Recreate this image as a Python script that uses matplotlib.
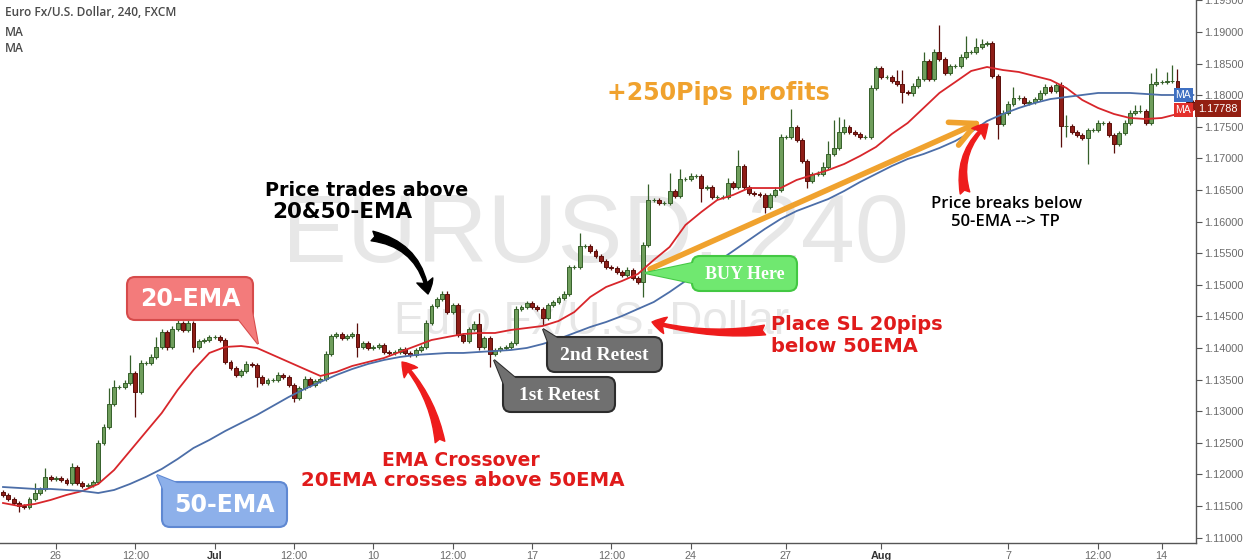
import numpy as np
import matplotlib.pyplot as plt
from matplotlib.patches import FancyBboxPatch, Polygon
from matplotlib.ticker import FormatStrFormatter

plt.rcParams['font.family'] = ['Liberation Sans', 'DejaVu Sans']

# EURUSD 4h candles, each candle opens at the previous close
first_open = 1.11721
closes = [
    1.11674, 1.11610, 1.11547, 1.11500, 1.11484, 1.11610, 1.11705, 1.11769, 1.11959, 1.11927,
    1.11943, 1.11911, 1.11864, 1.12117, 1.11864, 1.11816, 1.11832, 1.11879, 1.12497, 1.12750,
    1.13114, 1.13383, 1.13383, 1.13446, 1.13604, 1.13304, 1.13762, 1.13762, 1.13857, 1.14016,
    1.14253, 1.14016, 1.14300, 1.14395, 1.14285, 1.14395, 1.14016, 1.14110, 1.14126, 1.14174,
    1.14174, 1.14126, 1.13778, 1.13683, 1.13572, 1.13636, 1.13747, 1.13731, 1.13541, 1.13446,
    1.13493, 1.13493, 1.13572, 1.13541, 1.13414, 1.13209, 1.13367, 1.13509, 1.13414, 1.13478,
    1.13509, 1.13905, 1.14190, 1.14221, 1.14158, 1.14190, 1.14221, 1.14016, 1.14079, 1.14000,
    1.14016, 1.14047, 1.13937, 1.13921, 1.13937, 1.13984, 1.13921, 1.13889, 1.13968, 1.14016,
    1.14395, 1.14664, 1.14775, 1.14854, 1.14569, 1.14680, 1.14205, 1.14110, 1.14300, 1.14379,
    1.14016, 1.14158, 1.13905, 1.13968, 1.14000, 1.14016, 1.14079, 1.14617, 1.14648, 1.14712,
    1.14648, 1.14617, 1.14474, 1.14680, 1.14727, 1.14791, 1.14854, 1.15281, 1.15281, 1.15614,
    1.15614, 1.15534, 1.15455, 1.15376, 1.15281, 1.15265, 1.15202, 1.15155, 1.15234, 1.15107,
    1.15044, 1.15629, 1.16341, 1.16341, 1.16294, 1.16294, 1.16484, 1.16405, 1.16674, 1.16674,
    1.16721, 1.16721, 1.16531, 1.16547, 1.16389, 1.16389, 1.16389, 1.16610, 1.16547, 1.16879,
    1.16547, 1.16452, 1.16436, 1.16421, 1.16231, 1.16421, 1.16500, 1.17338, 1.17338, 1.17497,
    1.17291, 1.16959, 1.16642, 1.16753, 1.16753, 1.16864, 1.17069, 1.17164, 1.17417, 1.17497,
    1.17417, 1.17386, 1.17338, 1.17338, 1.18114, 1.18430, 1.18288, 1.18288, 1.18224, 1.18177,
    1.18050, 1.18035, 1.18145, 1.18256, 1.18541, 1.18256, 1.18683, 1.18572, 1.18351, 1.18462,
    1.18462, 1.18604, 1.18683, 1.18683, 1.18762, 1.18810, 1.18826, 1.18303, 1.17544, 1.17718,
    1.17860, 1.17955, 1.17955, 1.17876, 1.17892, 1.17939, 1.18035, 1.18129, 1.18066, 1.18161,
    1.17512, 1.17512, 1.17417, 1.17370, 1.17322, 1.17449, 1.17449, 1.17560, 1.17560, 1.17370,
    1.17227, 1.17402, 1.17560, 1.17718, 1.17750, 1.17750, 1.17560, 1.18177, 1.18208, 1.18208,
    1.18224, 1.18224, 1.18050, 1.17971, 1.17892, 1.17788,
]
# wick length above / below the body, in pips
upper_wick = [
    3, 3, 3, 3, 3, 3, 16, 3, 14, 3, 3, 3, 3, 7, 3, 3, 3, 3, 4, 5,
    25, 11, 3, 4, 28, 3, 4, 3, 5, 16, 4, 3, 5, 4, 3, 4, 3, 3, 3, 3,
    3, 3, 3, 3, 3, 3, 4, 3, 3, 3, 3, 3, 4, 3, 3, 3, 3, 4, 3, 3,
    3, 4, 3, 3, 3, 3, 3, 17, 3, 3, 3, 3, 3, 3, 3, 3, 3, 3, 3, 3,
    4, 3, 3, 4, 4, 3, 3, 3, 3, 4, 17, 3, 3, 3, 3, 3, 3, 4, 3, 3,
    3, 3, 3, 3, 3, 3, 4, 3, 3, 20, 3, 3, 3, 3, 3, 3, 3, 3, 4, 3,
    3, 4, 25, 3, 3, 3, 28, 3, 16, 3, 4, 3, 3, 3, 3, 3, 3, 8, 3, 25,
    3, 3, 3, 3, 3, 3, 4, 5, 3, 28, 3, 3, 3, 3, 4, 8, 20, 44, 24, 12,
    3, 3, 3, 3, 4, 3, 3, 3, 3, 17, 22, 3, 4, 4, 14, 3, 5, 43, 3, 3,
    3, 5, 25, 3, 14, 8, 3, 3, 3, 4, 4, 17, 4, 3, 3, 3, 4, 4, 3, 3,
    4, 17, 3, 3, 3, 3, 3, 5, 3, 3, 3, 3, 4, 4, 9, 9, 3, 17, 22, 3,
    15, 25, 19, 3, 3, 3,
]
lower_wick = [
    3, 3, 3, 9, 3, 3, 3, 3, 3, 3, 3, 3, 3, 3, 3, 3, 3, 3, 3, 3,
    3, 3, 3, 3, 3, 40, 3, 3, 3, 3, 3, 5, 3, 3, 3, 3, 8, 3, 3, 3,
    3, 3, 3, 3, 3, 3, 3, 3, 16, 3, 3, 3, 3, 3, 3, 6, 3, 3, 3, 3,
    3, 3, 3, 3, 3, 3, 3, 16, 3, 3, 3, 3, 3, 3, 3, 3, 3, 3, 3, 3,
    3, 3, 3, 3, 3, 3, 3, 3, 3, 3, 5, 3, 20, 3, 3, 3, 3, 3, 3, 3,
    3, 3, 11, 3, 3, 3, 3, 3, 3, 3, 3, 3, 3, 3, 3, 3, 3, 3, 3, 3,
    3, 24, 3, 3, 3, 3, 3, 3, 3, 3, 3, 3, 22, 3, 3, 3, 3, 3, 3, 3,
    3, 3, 3, 3, 9, 3, 3, 3, 3, 3, 3, 3, 11, 3, 3, 3, 3, 3, 3, 3,
    3, 3, 3, 3, 3, 3, 3, 3, 3, 3, 17, 3, 5, 3, 3, 3, 3, 3, 3, 3,
    3, 3, 3, 3, 3, 3, 3, 3, 24, 3, 3, 3, 3, 3, 3, 3, 3, 3, 3, 3,
    33, 18, 3, 3, 3, 41, 3, 3, 3, 3, 14, 3, 3, 3, 3, 3, 3, 3, 3, 3,
    3, 3, 3, 3, 3, 3,
]

# moving averages, read every third candle
ema_idx = list(range(0, 226, 3))
ema20 = [
    1.11547, 1.11500, 1.11531, 1.11595, 1.11674, 1.11737, 1.11848, 1.12069, 1.12370, 1.12671,
    1.12971, 1.13335, 1.13652, 1.13921, 1.14016, 1.14031, 1.14000, 1.13889, 1.13778, 1.13667,
    1.13557, 1.13620, 1.13715, 1.13778, 1.13841, 1.13937, 1.14031, 1.14126, 1.14174, 1.14221,
    1.14237, 1.14237, 1.14285, 1.14316, 1.14348, 1.14427, 1.14569, 1.14807, 1.14965, 1.15060,
    1.15171, 1.15392, 1.15598, 1.15946, 1.16152, 1.16341, 1.16421, 1.16531, 1.16531, 1.16531,
    1.16658, 1.16737, 1.16816, 1.16911, 1.17038, 1.17180, 1.17386, 1.17560, 1.17797, 1.18035,
    1.18208, 1.18383, 1.18446, 1.18398, 1.18367, 1.18303, 1.18240, 1.18114, 1.17924, 1.17797,
    1.17702, 1.17639, 1.17623, 1.17639, 1.17702, 1.17765,
]
ema50 = [
    1.11800, 1.11785, 1.11769, 1.11769, 1.11753, 1.11737, 1.11705, 1.11753, 1.11848, 1.11959,
    1.12085, 1.12243, 1.12417, 1.12544, 1.12686, 1.12813, 1.12940, 1.13082, 1.13224, 1.13351,
    1.13462, 1.13572, 1.13667, 1.13747, 1.13810, 1.13857, 1.13889, 1.13905, 1.13921, 1.13921,
    1.13937, 1.13952, 1.13968, 1.14000, 1.14063, 1.14142, 1.14237, 1.14332, 1.14411, 1.14506,
    1.14617, 1.14727, 1.14886, 1.15060, 1.15218, 1.15360, 1.15534, 1.15709, 1.15883, 1.16041,
    1.16167, 1.16262, 1.16357, 1.16484, 1.16626, 1.16753, 1.16879, 1.16990, 1.17069, 1.17164,
    1.17275, 1.17417, 1.17591, 1.17702, 1.17797, 1.17876, 1.17939, 1.17971, 1.18003, 1.18035,
    1.18035, 1.18035, 1.18019, 1.18003, 1.18003, 1.18003,
]

tick_idx = [10, 25, 40, 55, 70, 85, 100, 115, 130, 148, 166, 190, 207, 219]
tick_labels = ['26', '12:00', 'Jul', '12:00', '10', '12:00', '17', '12:00',
               '24', '27', 'Aug', '7', '12:00', '14']
last_price = 1.17788

W, H = 1246, 560
fig = plt.figure(figsize=(W / 100, H / 100), dpi=100)
ax = fig.add_axes([0, 17 / H, 1196 / W, 543 / H])
# overlay in pixel units (origin top-left) for the hand-drawn notes
ov = fig.add_axes([0, 0, 1, 1])
ov.set_xlim(0, W)
ov.set_ylim(H, 0)
ov.axis('off')
ov.patch.set_alpha(0)

# candles
x = np.arange(len(closes))
c = np.array(closes)
o = np.r_[first_open, c[:-1]]
hi = np.maximum(o, c) + np.array(upper_wick) * 1e-4
lo = np.minimum(o, c) - np.array(lower_wick) * 1e-4
rising = c >= o
body_col = np.where(rising, '#6f9e5c', '#8e1d17')
edge_col = np.where(rising, '#36602a', '#5a0e0a')
ax.vlines(x, lo, hi, colors=edge_col, lw=0.9, zorder=2)
ax.bar(x, np.abs(c - o), bottom=np.minimum(o, c), width=0.74,
       color=body_col, edgecolor=edge_col, lw=0.7, zorder=3)

ax.plot(ema_idx, ema20, color='#d8262b', lw=1.3, zorder=4)
ax.plot(ema_idx, ema50, color='#4c6ea8', lw=1.3, zorder=4)

ax.set_xlim(-0.57, 225.5)
ax.set_ylim(1.10914, 1.19506)

# watermark behind the candles
ax.text(595, 237, 'EURUSD, 240', transform=ov.transData, ha='center', va='center',
        fontsize=70, color='#e7e7e7', zorder=0)
ax.text(592, 322, 'Euro Fx/U.S. Dollar', transform=ov.transData, ha='center',
        va='center', fontsize=33, color='#e7e7e7', zorder=0)

# axes styling
for side in ['left', 'top']:
    ax.spines[side].set_visible(False)
for side in ['right', 'bottom']:
    ax.spines[side].set_color('#555555')
    ax.spines[side].set_linewidth(1)
ax.yaxis.tick_right()
ax.set_yticks(np.arange(1.110, 1.1951, 0.005))
ax.yaxis.set_major_formatter(FormatStrFormatter('%.5f'))
ax.set_xticks(tick_idx, tick_labels)
ax.tick_params(axis='both', length=4, width=0.8, color='#555555',
               labelcolor='#6a6a6a', labelsize=7.8, pad=2)
for lab in ax.get_xticklabels():
    if lab.get_text() in ('Jul', 'Aug'):
        lab.set_fontweight('bold')
        lab.set_color('#333333')

# price tags on the right edge
ax.text(1.002, last_price, '1.17788', transform=ax.get_yaxis_transform(),
        ha='left', va='center', color='white', fontsize=7.8, zorder=6, clip_on=False,
        bbox=dict(boxstyle='square,pad=0.3', fc='#931f12', ec='none'))
ax.text(0.996, ema50[-1], 'MA', transform=ax.get_yaxis_transform(), ha='right',
        va='center', color='white', fontsize=7.5, zorder=6,
        bbox=dict(boxstyle='square,pad=0.2', fc='#3f70c2', ec='none'))
ax.text(0.996, ema20[-1], 'MA', transform=ax.get_yaxis_transform(), ha='right',
        va='center', color='white', fontsize=7.5, zorder=6,
        bbox=dict(boxstyle='square,pad=0.2', fc='#e3302c', ec='none'))

# legend header
hdr = dict(fontsize=8.6, color='#4a4a4a', family='Open Sans', fontweight='semibold', va='center')
ov.text(5, 13, 'Euro Fx/U.S. Dollar, 240, FXCM', **hdr)
ov.text(5, 32, 'MA', **hdr)
ov.text(5, 48, 'MA', **hdr)


def callout(x0, y0, x1, y1, tip, base, text, fc, ec, size, family):
    tail = [tip] + base
    ov.add_patch(Polygon(tail, closed=True, fc=fc, ec=ec, lw=1.5, zorder=4))
    ov.add_patch(FancyBboxPatch((x0, y0), x1 - x0, y1 - y0, boxstyle='round,pad=0,rounding_size=8',
                                fc=fc, ec=ec, lw=1.5, zorder=5))
    ov.add_patch(Polygon(tail, closed=True, fc=fc, ec='none', zorder=6))
    ov.text((x0 + x1) / 2, (y0 + y1) / 2 + 1, text, ha='center', va='center', color='white',
            fontsize=size, fontweight='bold', family=family, zorder=7)


callout(127, 277, 253, 320, (258, 344), [(247, 284), (236, 316)], '20-EMA',
        '#f37b7b', '#d64b4b', 17, 'DejaVu Sans')
callout(162, 482, 287, 527, (157, 475), [(166, 496), (182, 485)], '50-EMA',
        '#8db0ea', '#5f88d2', 17, 'DejaVu Sans')
callout(692, 256, 797, 291, (645, 273), [(697, 262), (697, 284)], 'BUY Here',
        '#70e870', '#43c843', 13, 'Liberation Serif')
callout(547, 337, 662, 372, (543, 329), [(551, 350), (562, 341)], '2nd Retest',
        '#707070', '#2c2c2c', 14, 'Liberation Serif')
callout(503, 377, 615, 412, (494, 360), [(507, 392), (519, 381)], '1st Retest',
        '#707070', '#2c2c2c', 14, 'Liberation Serif')

# arrows
ov.annotate('', xy=(982, 121), xytext=(650, 269),
            arrowprops=dict(arrowstyle='->,head_length=0.9,head_width=0.45', lw=4,
                            color='#f0a22e', shrinkA=0, shrinkB=0, mutation_scale=20))
ov.annotate('', xy=(428, 294), xytext=(372, 236),
            arrowprops=dict(arrowstyle='fancy,head_length=0.5,head_width=0.6,tail_width=0.35',
                            connectionstyle='arc3,rad=-0.35', fc='black', ec='black',
                            shrinkA=0, shrinkB=0, mutation_scale=20))
ov.annotate('', xy=(402, 362), xytext=(440, 442),
            arrowprops=dict(arrowstyle='fancy,head_length=0.5,head_width=0.6,tail_width=0.35',
                            connectionstyle='arc3,rad=0.15', fc='#ee1c1c', ec='#ee1c1c',
                            shrinkA=0, shrinkB=0, mutation_scale=20))
ov.annotate('', xy=(652, 322), xytext=(765, 330),
            arrowprops=dict(arrowstyle='fancy,head_length=0.5,head_width=0.6,tail_width=0.35',
                            connectionstyle='arc3,rad=-0.1', fc='#ee1c1c', ec='#ee1c1c',
                            shrinkA=0, shrinkB=0, mutation_scale=20))
ov.annotate('', xy=(988, 124), xytext=(965, 193),
            arrowprops=dict(arrowstyle='fancy,head_length=0.5,head_width=0.6,tail_width=0.35',
                            connectionstyle='arc3,rad=-0.3', fc='#ee1c1c', ec='#ee1c1c',
                            shrinkA=0, shrinkB=0, mutation_scale=20))

# notes
note = dict(family='DejaVu Sans', fontweight='bold', va='center')
ov.text(265, 191, 'Price trades above', fontsize=13.8, color='black', ha='left', **note)
ov.text(272, 212, '20&50-EMA', fontsize=15.5, color='black', ha='left', **note)
ov.text(461, 461, 'EMA Crossover', fontsize=13.5, color='#e01b1b', ha='center', **note)
ov.text(463, 481, '20EMA crosses above 50EMA', fontsize=14.2, color='#e01b1b', ha='center', **note)
ov.text(607, 93, '+250Pips profits', fontsize=17, color='#f0a22e', ha='left', **note)
ov.text(771, 325, 'Place SL 20pips', fontsize=14, color='#e01b1b', ha='left', **note)
ov.text(771, 346, 'below 50EMA', fontsize=14, color='#e01b1b', ha='left', **note)
ov.text(1007, 204, 'Price breaks below', fontsize=12, color='black', ha='center',
        family='Open Sans', fontweight='semibold', va='center')
ov.text(1005, 222, '50-EMA --> TP', fontsize=12, color='black', ha='center',
        family='Open Sans', fontweight='semibold', va='center')

fig.savefig('out.png', dpi=100)
